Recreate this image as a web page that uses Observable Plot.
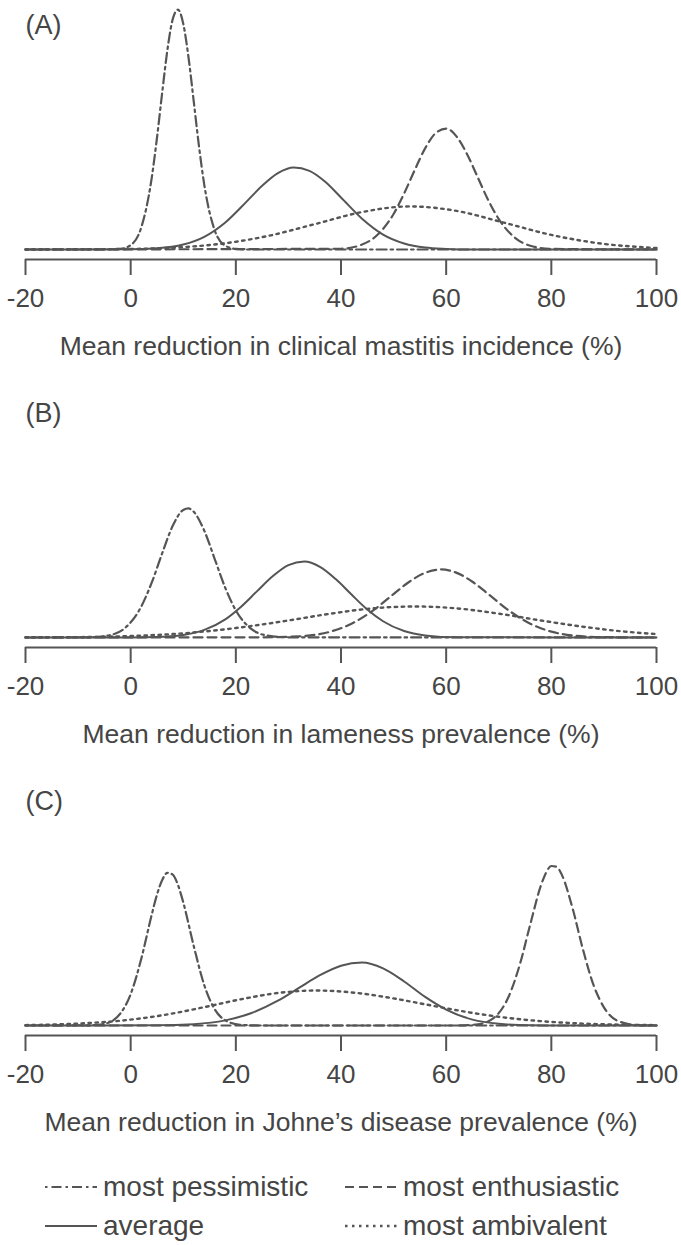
<!DOCTYPE html>
<html>
<head>
<meta charset="utf-8">
<script src="https://cdn.jsdelivr.net/npm/d3@7"></script>
<script src="https://cdn.jsdelivr.net/npm/@observablehq/plot@0.6"></script>
<style>
  html, body { margin: 0; padding: 0; background: #fff; }
  #chart svg { display: block; }
</style>
</head>
<body>
<div id="chart"></div>
<script>
// ---------- data (x = % reduction, y = density) ----------
const xTicks = [-20, 0, 20, 40, 60, 80, 100];
const panelLabels = ["(A)", "(B)", "(C)"];
const axisTitles = [
  "Mean reduction in clinical mastitis incidence (%)",
  "Mean reduction in lameness prevalence (%)",
  "Mean reduction in Johne\u2019s disease prevalence (%)"
];
const seriesNames = ["most pessimistic", "most enthusiastic", "average", "most ambivalent"];

// Panel A
const A_pessimistic = [[-20,0],[-4,0],[-2,0.0003],[0,0.0023],[2,0.0115],[4,0.0378],[5,0.0590],[6,0.0831],[7,0.1059],[8,0.1219],[9,0.1269],[10,0.1195],[11,0.1017],[12,0.0783],[13,0.0544],[14,0.0342],[16,0.0100],[18,0.0020],[20,0.0003],[22,0],[100,0]];
const A_average = [[-20,0],[0,0.0001],[5,0.0006],[10,0.0026],[14,0.0067],[18,0.0143],[22,0.0252],[25,0.0337],[28,0.0404],[31,0.0434],[34,0.0416],[37,0.0358],[40,0.0275],[44,0.0163],[48,0.0079],[52,0.0032],[56,0.0010],[60,0.0003],[65,0],[100,0]];
const A_enthusiastic = [[-20,0],[40,0.0004],[44,0.0026],[47,0.0079],[50,0.0188],[52,0.0296],[54,0.0419],[56,0.0535],[58,0.0616],[60,0.0640],[62,0.0597],[64,0.0503],[66,0.0382],[68,0.0261],[70,0.0161],[73,0.0064],[76,0.0020],[80,0.0003],[100,0]];
const A_ambivalent = [[-20,0],[0,0.0003],[9,0.0011],[18,0.0033],[26,0.0071],[35,0.0134],[44,0.0198],[53,0.0228],[62,0.0204],[71,0.0142],[80,0.0077],[89,0.0033],[100,0.0008]];

// Panel B
const B_pessimistic = [[-20,0],[-8,0.0001],[-4,0.0012],[-1,0.0052],[2,0.0163],[4,0.0290],[6,0.0446],[8,0.0591],[10,0.0675],[11,0.0683],[12,0.0665],[14,0.0565],[16,0.0414],[18,0.0262],[20,0.0143],[23,0.0044],[26,0.0010],[30,0.0001],[100,0]];
const B_average = [[-20,0],[0,0],[6,0.0004],[10,0.0013],[14,0.0040],[18,0.0096],[21,0.0163],[24,0.0244],[27,0.0324],[30,0.0383],[33,0.0402],[36,0.0374],[39,0.0309],[42,0.0227],[45,0.0148],[48,0.0086],[52,0.0034],[56,0.0011],[62,0.0001],[100,0]];
const B_enthusiastic = [[-20,0],[25,0.0001],[32,0.0006],[38,0.0031],[42,0.0073],[46,0.0141],[50,0.0230],[53,0.0295],[56,0.0342],[59,0.0360],[62,0.0342],[65,0.0295],[68,0.0230],[72,0.0141],[76,0.0073],[80,0.0031],[84,0.0011],[90,0.0002],[100,0]];
const B_ambivalent = [[-20,0.0001],[-10,0.0002],[0,0.0008],[10,0.0022],[20,0.0050],[30,0.0090],[38,0.0126],[46,0.0154],[54,0.0164],[62,0.0154],[70,0.0126],[78,0.0090],[86,0.0057],[94,0.0031],[100,0.0018]];

// Panel C
const C_pessimistic = [[-20,0],[-8,0.0001],[-5,0.0009],[-2,0.0062],[0,0.0166],[2,0.0351],[4,0.0586],[5,0.0692],[6,0.0770],[7,0.0808],[8,0.0798],[9,0.0743],[10,0.0652],[12,0.0420],[14,0.0213],[16,0.0085],[18,0.0027],[21,0.0003],[25,0],[100,0]];
const C_average = [[-20,0],[5,0.0001],[12,0.0007],[18,0.0027],[23,0.0066],[28,0.0131],[32,0.0199],[36,0.0266],[40,0.0316],[44,0.0333],[48,0.0302],[52,0.0233],[56,0.0151],[60,0.0084],[65,0.0031],[70,0.0009],[76,0.0001],[84,0],[100,0]];
const C_enthusiastic = [[-20,0],[62,0],[66,0.0006],[69,0.0039],[72,0.0160],[74,0.0322],[76,0.0536],[78,0.0739],[79,0.0809],[80,0.0844],[81,0.0840],[82,0.0797],[84,0.0624],[86,0.0404],[88,0.0216],[90,0.0096],[93,0.0020],[97,0.0001],[100,0]];
const C_ambivalent = [[-20,0.0002],[-10,0.0010],[-2,0.0025],[6,0.0054],[14,0.0097],[21,0.0139],[28,0.0172],[35,0.0185],[42,0.0175],[49,0.0148],[56,0.0112],[63,0.0076],[70,0.0046],[78,0.0023],[86,0.0010],[94,0.0004],[100,0.0002]];

// ---------- drawing ----------
const lineColor = "#555555";
const textColor = "#454545";
const fontFamily = "'Liberation Sans', Arial, Helvetica, sans-serif";
const yDomain = [-0.0053, 0.127];

const styles = {
  "most ambivalent":   {dash: "2.5,4.5", width: 2.4},
  "most enthusiastic": {dash: "9,5",     width: 2.2},
  "most pessimistic":  {dash: "2.5,4,10,4", width: 2.2},
  "average":           {dash: null,      width: 2}
};

function panel(label, title, pess, enth, avg, amb) {
  const ln = (data, name) => Plot.line(data, {
    x: d => d[0], y: d => d[1], curve: "monotone-x",
    stroke: lineColor, strokeWidth: styles[name].width,
    strokeDasharray: styles[name].dash || undefined
  });
  return Plot.plot({
    width: 681, height: 388,
    marginLeft: 25, marginRight: 25, marginTop: 9, marginBottom: 129,
    x: {domain: [-20, 100]},
    y: {domain: yDomain, axis: null},
    style: {fontFamily, color: textColor, background: "#fff", overflow: "visible"},
    marks: [
      ln(amb, "most ambivalent"),
      ln(enth, "most enthusiastic"),
      ln(pess, "most pessimistic"),
      ln(avg, "average"),
      Plot.ruleY([yDomain[0]], {stroke: lineColor, strokeWidth: 2}),
      Plot.axisX({ticks: xTicks, tickSize: 16, tickPadding: 13, fontSize: 26,
                  tickFormat: d => String(d), label: null, strokeWidth: 2, stroke: lineColor}),
      Plot.text([label], {text: d => d, frameAnchor: "top-left", dy: 16,
                          lineAnchor: "middle", textAnchor: "start", fontSize: 27, fill: textColor}),
      Plot.text([title], {text: d => d, frameAnchor: "bottom", dy: 87,
                          lineAnchor: "middle", textAnchor: "middle", fontSize: 26.5, fill: textColor})
    ]
  });
}

const chart = document.getElementById("chart");
chart.appendChild(panel(panelLabels[0], axisTitles[0], A_pessimistic, A_enthusiastic, A_average, A_ambivalent));
chart.appendChild(panel(panelLabels[1], axisTitles[1], B_pessimistic, B_enthusiastic, B_average, B_ambivalent));
chart.appendChild(panel(panelLabels[2], axisTitles[2], C_pessimistic, C_enthusiastic, C_average, C_ambivalent));

// ---------- legend ----------
const legendItems = [
  {name: seriesNames[0], col: 0, row: 0},
  {name: seriesNames[1], col: 1, row: 0},
  {name: seriesNames[2], col: 0, row: 1},
  {name: seriesNames[3], col: 1, row: 1}
];
const colX = [45, 345];
const rowY = [23, 62];
const leg = d3.create("svg").attr("width", 681).attr("height", 81)
  .style("display", "block").style("font-family", fontFamily);
const g = leg.selectAll("g").data(legendItems).join("g")
  .attr("transform", d => `translate(${colX[d.col]},${rowY[d.row]})`);
g.append("line").attr("x1", 0).attr("x2", 52).attr("y1", 0).attr("y2", 0)
  .attr("stroke", lineColor).attr("stroke-width", d => styles[d.name].width)
  .attr("stroke-dasharray", d => styles[d.name].dash);
g.append("text").attr("x", 58).attr("y", 9).attr("font-size", 28)
  .attr("fill", textColor).text(d => d.name);
chart.appendChild(leg.node());
</script>
</body>
</html>
